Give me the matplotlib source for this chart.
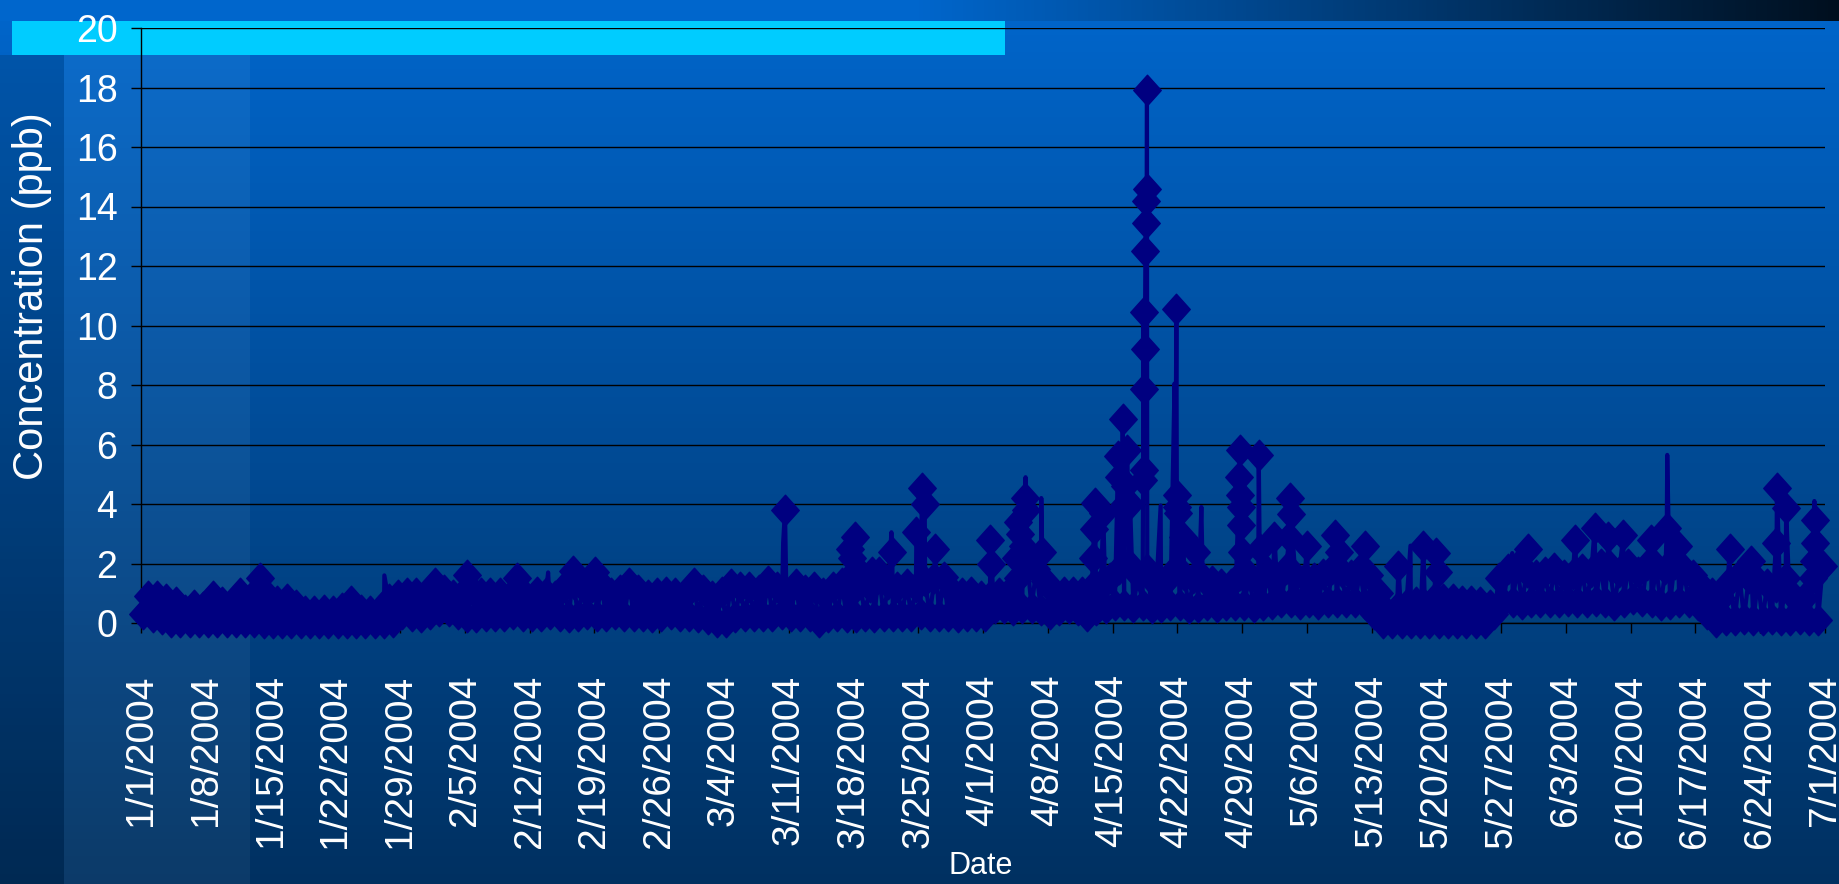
import matplotlib.pyplot as plt
import numpy as np
import pandas as pd
from matplotlib import font_manager
from matplotlib.patches import Rectangle
from matplotlib.path import Path

# daily band of the record: lowest / highest reading of each day (ppb), 1/1/2004 .. 6/30/2004
daily_low = [
    0.3, 0.2, 0.15, 0.05, 0.05, 0.05, 0.05,
    0.05, 0.05, 0.05, 0.05, 0.05, 0.05, 0.0,
    0.0, 0.0, 0.0, 0.0, 0.0, 0.0, 0.0,
    0.0, 0.0, 0.0, 0.0, 0.0, 0.0, 0.05,
    0.3, 0.25, 0.2, 0.3, 0.4, 0.4, 0.3,
    0.2, 0.2, 0.25, 0.25, 0.25, 0.3, 0.25,
    0.25, 0.25, 0.3, 0.25, 0.2, 0.25, 0.3,
    0.25, 0.25, 0.3, 0.25, 0.25, 0.25, 0.2,
    0.25, 0.3, 0.25, 0.25, 0.2, 0.15, 0.05,
    0.05, 0.2, 0.25, 0.25, 0.25, 0.25, 0.3,
    0.25, 0.25, 0.25, 0.05, 0.2, 0.25, 0.2,
    0.2, 0.25, 0.2, 0.25, 0.25, 0.25, 0.25,
    0.3, 0.25, 0.25, 0.25, 0.2, 0.25, 0.25,
    0.25, 0.5, 0.5, 0.45, 0.5, 0.5, 0.45,
    0.3, 0.45, 0.5, 0.45, 0.25, 0.45, 0.5,
    0.6, 0.6, 0.55, 0.6, 0.5, 0.55, 0.6,
    0.6, 0.5, 0.55, 0.6, 0.55, 0.6, 0.6,
    0.6, 0.55, 0.6, 0.65, 0.7, 0.7, 0.65,
    0.7, 0.65, 0.7, 0.7, 0.7, 0.7, 0.65,
    0.3, 0.0, 0.0, 0.0, 0.0, 0.0, 0.0,
    0.0, 0.0, 0.0, 0.0, 0.0, 0.0, 0.3,
    0.7, 0.7, 0.65, 0.7, 0.7, 0.7, 0.7,
    0.75, 0.7, 0.7, 0.75, 0.7, 0.6, 0.7,
    0.8, 0.75, 0.7, 0.6, 0.65, 0.7, 0.7,
    0.6, 0.3, 0.05, 0.1, 0.1, 0.15, 0.1,
    0.1, 0.15, 0.1, 0.1, 0.15, 0.1, 0.1,
]
daily_high = [
    0.9, 0.9, 0.8, 0.7, 0.45, 0.6, 0.55,
    0.9, 0.7, 0.6, 1.0, 0.85, 0.8, 0.9,
    0.75, 0.8, 0.6, 0.4, 0.4, 0.45, 0.4,
    0.5, 0.75, 0.45, 0.4, 0.4, 0.8, 0.95,
    1.0, 1.0, 0.9, 1.35, 1.1, 0.95, 1.0,
    1.1, 1.0, 1.0, 1.0, 0.75, 1.2, 0.85,
    1.05, 1.0, 0.9, 1.2, 1.3, 1.2, 1.2,
    1.3, 1.0, 1.1, 1.35, 1.1, 0.95, 1.0,
    1.05, 1.0, 0.95, 1.35, 1.1, 0.9, 1.05,
    1.3, 1.2, 1.2, 1.1, 1.4, 1.2, 1.0,
    1.3, 1.1, 1.2, 1.0, 1.2, 1.35, 1.0,
    1.3, 1.2, 1.7, 1.3, 1.2, 1.3, 1.2,
    1.4, 1.5, 1.55, 1.05, 1.0, 1.05, 0.9,
    0.9, 1.0, 1.0, 1.5, 2.2, 1.8, 1.4,
    1.0, 1.05, 1.05, 1.05, 1.2, 1.3, 1.5,
    1.8, 2.0, 1.6, 1.8, 1.3, 1.4, 1.8,
    1.6, 1.5, 1.5, 1.4, 1.3, 1.3, 1.6,
    1.6, 1.4, 1.7, 1.5, 1.8, 1.6, 1.5,
    1.5, 1.65, 1.8, 1.7, 1.6, 1.8, 1.6,
    1.0, 0.35, 0.5, 0.6, 0.7, 0.6, 0.8,
    0.8, 0.8, 0.75, 0.75, 0.7, 0.6, 1.5,
    1.8, 1.9, 1.7, 1.6, 1.7, 1.85, 1.6,
    1.65, 1.8, 1.7, 2.0, 1.9, 1.7, 2.0,
    1.7, 1.95, 1.9, 1.8, 2.0, 1.8, 1.6,
    1.2, 1.0, 0.85, 1.4, 1.6, 1.5, 1.4,
    1.3, 1.2, 1.5, 0.85, 0.85, 1.5, 1.9,
]

# excursions above the band: days after 1/1/2004, value (ppb), marker shown or line only
spike_day = [12.9, 26.3, 35.2, 40.6, 44.0, 46.7, 49.1,
             69.4, 69.6, 76.6, 76.8, 77.2, 77.4, 79.0, 81.1, 81.2,
             83.8, 84.4, 84.7, 85.8,
             91.8, 91.9, 94.6, 94.8, 95.0, 95.3, 95.5, 95.6, 95.7, 97.3, 97.4,
             102.9, 103.0, 103.1, 104.0,
             105.6, 105.7, 106.0, 106.1, 106.3, 106.6, 106.9,
             108.30, 108.35, 108.40, 108.45, 108.50, 108.55, 108.60, 108.65, 108.70, 108.72,
             110.2, 111.7, 111.9, 111.95, 112.0, 112.05, 112.65, 114.0, 114.6,
             118.7, 118.75, 118.8, 118.85, 118.9, 118.95,
             120.8, 120.9, 122.5, 124.1, 124.2, 124.3, 126.0, 129.0, 129.5, 132.3,
             135.9, 137.2, 138.6, 140.0, 140.2, 148.2, 149.9,
             155.0, 157.1, 158.6, 160.2, 163.2, 164.9, 164.95, 166.1,
             171.7, 174.0, 176.7, 176.8, 177.8, 180.8, 180.85, 180.9, 180.95]
spike_val = [1.5, 1.6, 1.6, 1.5, 1.7, 1.75, 1.7,
             2.7, 3.8, 2.5, 2.2, 2.9, 1.8, 1.7, 3.05, 2.4,
             3.05, 4.55, 4.0, 2.5,
             2.8, 2.0, 2.2, 3.4, 3.0, 2.6, 4.2, 4.9, 3.8, 4.2, 2.4,
             2.2, 3.15, 4.05, 3.7,
             5.6, 4.9, 3.9, 6.85, 4.6, 5.8, 4.0,
             4.8, 10.45, 5.15, 7.85, 9.2, 12.5, 13.45, 14.2, 14.6, 17.9,
             3.95, 8.05, 10.55, 4.3, 3.9, 3.7, 2.9, 2.4, 3.9,
             4.9, 5.8, 4.3, 3.9, 3.3, 2.4,
             5.65, 2.5, 2.9, 2.9, 4.2, 3.65, 2.6, 2.95, 2.4, 2.6,
             1.9, 2.6, 2.6, 2.35, 1.7, 2.35, 2.5,
             2.8, 3.2, 2.9, 2.95, 2.8, 3.2, 5.65, 2.6,
             2.5, 2.1, 2.7, 4.55, 3.85, 2.1, 4.1, 3.45, 2.7]
spike_mark = [True, False, True, True, False, True, True,
              False, True, True, True, True, True, True, False, True,
              True, True, True, True,
              True, True, True, True, True, True, True, False, True, False, True,
              True, True, True, True,
              True, True, True, True, True, True, True,
              True, True, True, True, True, True, True, True, True, True,
              False, False, True, True, True, True, True, True, False,
              True, True, True, True, True, True,
              True, True, True, True, True, True, True, True, True, True,
              True, False, True, True, True, False, True,
              True, True, True, True, True, True, False, True,
              True, True, True, True, True, True, False, True, True]

y_ticks = [0, 2, 4, 6, 8, 10, 12, 14, 16, 18, 20]

start = pd.Timestamp('2004-01-01')
end = pd.Timestamp('2004-07-01')

# two readings per day (low, high) plus the spikes, in time order
t, v, m = [], [], []
for d in range(len(daily_low)):
    t += [d + 0.25, d + 0.75]
    v += [daily_low[d], daily_high[d]]
    m += [True, True]
t += spike_day
v += spike_val
m += spike_mark
order = np.argsort(t, kind='stable')
times = start + pd.to_timedelta(np.array(t)[order], unit='D')
vals = np.array(v)[order]
marks = list(np.array(m)[order])

W, H = 1839, 884
fig = plt.figure(figsize=(W / 100, H / 100), dpi=100)

# slide background
bg = fig.add_axes([0, 0, 1, 1], zorder=0)
top_col = np.array([0.0, 0.40, 0.80])
bot_col = np.array([0.0, 0.19, 0.38])
g = np.linspace(0, 1, 256)[:, None]
grad = top_col + (bot_col - top_col) * g
bg.imshow(grad[:, None, :], extent=(0, W, H, 0), aspect='auto')
xs = np.linspace(0, 1, 512)
k = np.clip((xs - 0.5) / 0.5, 0, 1)
strip = top_col + (np.array([0.0, 0.06, 0.12]) - top_col) * k[:, None]
bg.imshow(strip[None, :, :], extent=(0, W, 21, 0), aspect='auto')
bg.add_patch(Rectangle((0, 55), 64, H - 55, color='black', alpha=0.14, lw=0))
bg.add_patch(Rectangle((64, 55), 186, H - 55, color='white', alpha=0.05, lw=0))
bg.add_patch(Rectangle((12, 21), 993, 34, color='#00CCFF', lw=0))
bg.set_xlim(0, W)
bg.set_ylim(H, 0)
bg.axis('off')

ax = fig.add_axes([141 / W, 1 - 623 / H, (1825 - 141) / W, (623 - 28) / H], zorder=1)
ax.patch.set_visible(False)

diamond = Path([(0, 1), (0.9, 0), (0, -1), (-0.9, 0), (0, 1)], closed=True)
ax.plot(times, vals, color='#000080', lw=3.0, marker=diamond, ms=22,
        markevery=marks, mfc='#000080', mec='#000080', mew=1, clip_on=False, zorder=3)

ax.set_xlim(start, end)
ax.set_ylim(0, 20)
ax.set_yticks(y_ticks)
ax.grid(axis='y', color='black', lw=1.0)
ax.set_axisbelow(True)

names = {f.name for f in font_manager.fontManager.ttflist}
narrow = 'Liberation Sans Narrow' if 'Liberation Sans Narrow' in names else 'Liberation Sans'

ticks = pd.date_range(start, end, freq='7D')
ax.set_xticks(ticks)
ax.set_xticklabels([f'{d.month}/{d.day}/{d.year}' for d in ticks], rotation=90,
                   fontsize=28, color='white', family='Liberation Sans')
ax.set_yticklabels([str(y) for y in y_ticks], fontsize=27, color='white', family=narrow)
ax.tick_params(axis='x', direction='out', length=7, width=1, color='black', pad=30)
ax.tick_params(axis='y', direction='out', length=7, width=1, color='black', pad=10)

for s in ['top', 'right']:
    ax.spines[s].set_visible(False)
for s in ['left', 'bottom']:
    ax.spines[s].set_color('black')
    ax.spines[s].set_linewidth(1.0)

fig.text(32 / W, 1 - 296 / H, 'Concentration (ppb)', rotation=90, ha='center', va='center',
         fontsize=30, color='white', family='Liberation Sans')
fig.text(981 / W, 1 - 866 / H, 'Date', ha='center', va='center',
         fontsize=22, color='white', family='Liberation Sans')

fig.savefig('out.png', dpi=100)
